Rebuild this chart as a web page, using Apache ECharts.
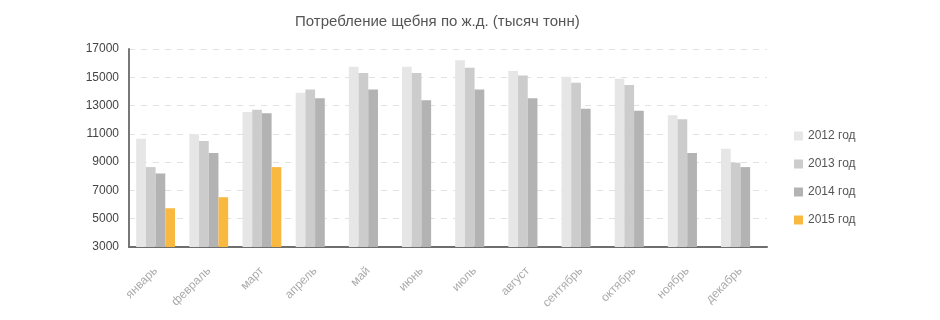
<!DOCTYPE html>
<html>
<head>
<meta charset="utf-8">
<script src="https://cdn.jsdelivr.net/npm/echarts@6/dist/echarts.min.js"></script>
<style>html,body{margin:0;padding:0;background:#fff}#c{width:940px;height:320px}</style>
</head>
<body>
<div id="c"></div>
<script>
const months = ['январь','февраль','март','апрель','май','июнь','июль','август','сентябрь','октябрь','ноябрь','декабрь'];
const y2012 = [10650, 10970, 12550, 13900, 15750, 15750, 16200, 15440, 15040, 14900, 12320, 9950];
const y2013 = [8650, 10500, 12700, 14140, 15300, 15300, 15680, 15130, 14610, 14450, 12030, 8960];
const y2014 = [8200, 9650, 12460, 13520, 14140, 13380, 14140, 13520, 12770, 12630, 9650, 8650];
const y2015 = [5740, 6520, 8650, null, null, null, null, null, null, null, null, null];
const seriesNames = ['2012 год','2013 год','2014 год','2015 год'];
const colors = ['#e6e6e6','#cccccc','#b3b3b3','#f9b940'];
const yTicks = {min: 3000, max: 17000, interval: 2000};

const font = "'Liberation Sans', Arial, sans-serif";
const chart = echarts.init(document.getElementById('c'), null, {renderer: 'canvas'});
const data = [y2012, y2013, y2014, y2015];
chart.setOption({
  animation: false,
  textStyle: {fontFamily: font},
  title: {
    text: 'Потребление щебня по ж.д. (тысяч тонн)',
    left: 290, top: 9,
    textStyle: {fontSize: 15, fontWeight: 'normal', color: '#555', fontFamily: font}
  },
  legend: {
    orient: 'vertical', left: 789, top: 125,
    itemWidth: 9, itemHeight: 9, itemGap: 16, itemStyle: {borderWidth: 0},
    icon: 'rect',
    textStyle: {fontSize: 12, color: '#555', fontFamily: font},
    data: seriesNames
  },
  grid: {left: 129, right: 173, top: 49, bottom: 73, containLabel: false},
  xAxis: {
    type: 'category', data: months,
    axisLine: {lineStyle: {color: '#6e6e6e', width: 2}},
    axisTick: {show: false},
    axisLabel: {rotate: 45, color: '#aaa', fontSize: 12, margin: 22, fontFamily: font}
  },
  yAxis: {
    type: 'value', min: yTicks.min, max: yTicks.max, interval: yTicks.interval,
    axisLine: {show: true, lineStyle: {color: '#777', width: 2}},
    axisTick: {show: false},
    axisLabel: {color: '#444', fontSize: 12, margin: 10, fontFamily: font, formatter: v => String(v)},
    splitLine: {lineStyle: {color: '#e2e2e2', type: [6, 6]}}
  },
  series: data.map((d, i) => ({
    name: seriesNames[i], type: 'bar', data: d,
    barGap: 0, barCategoryGap: '27%',
    itemStyle: {color: colors[i]}
  }))
});
</script>
</body>
</html>
